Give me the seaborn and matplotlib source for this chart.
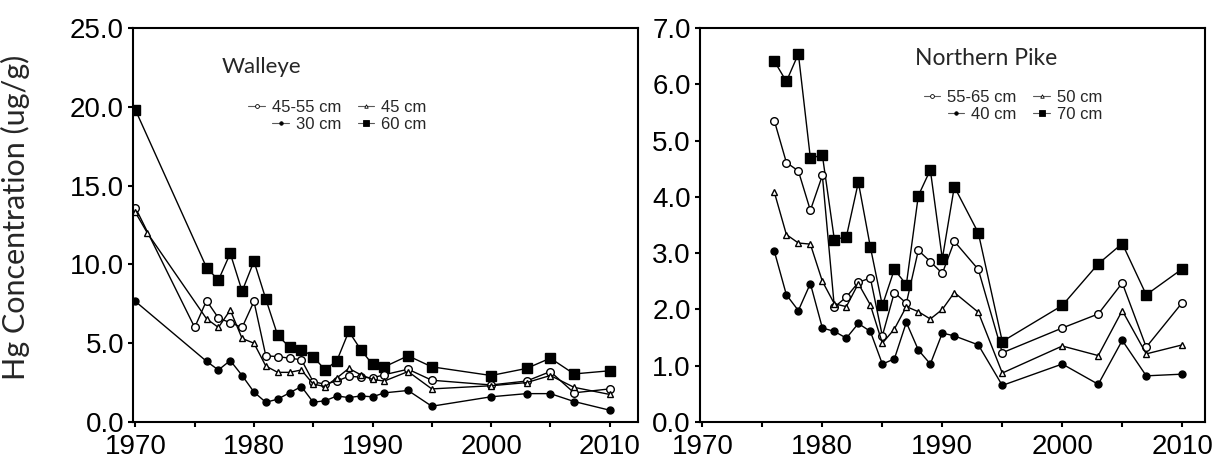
import matplotlib
matplotlib.use("Agg")
import matplotlib.pyplot as plt
from matplotlib.lines import Line2D
from matplotlib.ticker import MultipleLocator
import seaborn as sns

# -----------------------------
# Walleye data (ug/g)
# -----------------------------
mid_years = list(range(1976, 1992))
late_years = [1993, 1995, 2000, 2003, 2005, 2007, 2010]

w60_years = [1970] + mid_years + late_years
w60 = [19.8, 9.8, 9.0, 10.7, 8.3, 10.2, 7.8, 5.5, 4.75, 4.6, 4.15, 3.3, 3.9, 5.75,
       4.6, 3.65, 3.5, 4.2, 3.5, 2.95, 3.4, 4.05, 3.05, 3.25]

w4555_years = [1970, 1975] + mid_years + late_years
w4555 = [13.6, 6.0, 7.7, 6.6, 6.3, 6.0, 7.65, 4.2, 4.15, 4.05, 3.95, 2.55, 2.4, 2.6,
         2.9, 2.85, 2.8, 3.0, 3.35, 2.65, 2.35, 2.6, 3.2, 1.85, 2.1]

w45_years = [1970, 1971] + mid_years + late_years
w45 = [13.3, 12.0, 6.55, 6.0, 7.1, 5.3, 5.0, 3.55, 3.15, 3.15, 3.3, 2.4, 2.25, 2.8,
       3.4, 3.0, 2.7, 2.6, 3.2, 2.1, 2.3, 2.5, 2.95, 2.2, 1.75]

w30_years = [1970] + mid_years + late_years
w30 = [7.65, 3.85, 3.3, 3.9, 2.95, 1.9, 1.25, 1.45, 1.85, 2.25, 1.25, 1.35, 1.65,
       1.55, 1.65, 1.6, 1.85, 2.0, 1.0, 1.6, 1.8, 1.8, 1.3, 0.75]

# -----------------------------
# Northern Pike data (ug/g)
# -----------------------------
pike_years = mid_years + late_years
p70 = [6.41, 6.05, 6.54, 4.69, 4.74, 3.24, 3.29, 4.26, 3.11, 2.07, 2.71, 2.44, 4.02,
       4.48, 2.9, 4.18, 3.36, 1.43, 2.07, 2.81, 3.17, 2.26, 2.72]
p5565 = [5.35, 4.61, 4.46, 3.76, 4.38, 2.04, 2.22, 2.48, 2.56, 1.53, 2.3, 2.11, 3.05,
         2.85, 2.64, 3.21, 2.71, 1.23, 1.67, 1.92, 2.47, 1.33, 2.12]
p50 = [4.08, 3.33, 3.18, 3.16, 2.5, 2.1, 2.05, 2.46, 2.08, 1.4, 1.65, 2.05, 1.96,
       1.83, 2.0, 2.3, 1.95, 0.87, 1.35, 1.18, 1.98, 1.21, 1.37]
p40 = [3.03, 2.26, 1.98, 2.46, 1.67, 1.61, 1.49, 1.75, 1.61, 1.03, 1.12, 1.77, 1.28,
       1.03, 1.58, 1.53, 1.37, 0.65, 1.03, 0.67, 1.45, 0.82, 0.85]

# marker styles: (marker, facecolor, size)
STY = {
    "square": ("s", "k", 7.5),
    "open_circle": ("o", "white", 5.5),
    "open_tri": ("^", "white", 5.0),
    "dot": ("o", "k", 5.0),
}

sns.set_style("ticks")
plt.rcParams["font.family"] = ["Liberation Sans", "DejaVu Sans"]

fig = plt.figure(figsize=(12.24, 4.61), dpi=100)
ax1 = fig.add_axes([0.1087, 0.0846, 0.4126, 0.8547])
ax2 = fig.add_axes([0.5719, 0.0846, 0.4126, 0.8547])


def draw(ax, x, y, kind):
    m, fc, ms = STY[kind]
    sns.lineplot(x=x, y=y, ax=ax, color="k", lw=1.0, marker=m, markersize=ms,
                 markerfacecolor=fc, markeredgecolor="k", markeredgewidth=1.0,
                 errorbar=None)


# Walleye
draw(ax1, w60_years, w60, "square")
draw(ax1, w4555_years, w4555, "open_circle")
draw(ax1, w45_years, w45, "open_tri")
draw(ax1, w30_years, w30, "dot")

# Northern Pike
draw(ax2, pike_years, p70, "square")
draw(ax2, pike_years, p5565, "open_circle")
draw(ax2, pike_years, p50, "open_tri")
draw(ax2, pike_years, p40, "dot")

ax1.set_xlim(1969.8, 2012.4)
ax1.set_ylim(0, 25)
ax2.set_xlim(1969.8, 2011.9)
ax2.set_ylim(0, 7)

for ax in (ax1, ax2):
    ax.xaxis.set_major_locator(MultipleLocator(10))
    ax.xaxis.set_minor_locator(MultipleLocator(5))
    ax.set_xlabel("")
    ax.set_ylabel("")
    ax.tick_params(axis="both", which="both", direction="out", length=3.5, width=1.5,
                   labelsize=20, colors="k")
    ax.tick_params(axis="x", pad=5)
    ax.tick_params(axis="y", pad=3)
    for s in ax.spines.values():
        s.set_visible(True)
        s.set_linewidth(1.5)
        s.set_color("k")

ax1.set_yticks([0, 5, 10, 15, 20, 25])
ax1.set_yticklabels([f"{v:.1f}" for v in [0, 5, 10, 15, 20, 25]])
ax2.set_yticks(range(0, 8))
ax2.set_yticklabels([f"{v:.1f}" for v in range(0, 8)])

ax1.set_ylabel("Hg Concentration (ug/g)", fontsize=22, family=["Lato", "DejaVu Sans"])
ax1.yaxis.set_label_coords(-0.205, 0.52)

ax1.text(0.176, 0.885, "Walleye", transform=ax1.transAxes, fontsize=16,
         family=["Lato", "DejaVu Sans"])
ax2.text(0.426, 0.905, "Northern Pike", transform=ax2.transAxes, fontsize=16.5,
         family=["Lato", "DejaVu Sans"])


def handle(kind):
    m, fc, ms = STY[kind]
    return Line2D([], [], color="0.35", lw=0.8, marker=m, markersize=ms * 0.5,
                  markerfacecolor=fc, markeredgecolor="k", markeredgewidth=0.6)


# column-major order: col1 = (first, third), col2 = (second, fourth)
leg_kw = dict(ncol=2, frameon=False, fontsize=12, handlelength=1.0, handletextpad=0.4,
              columnspacing=1.0, labelspacing=0.15, borderaxespad=0)
leg1 = ax1.legend([handle("open_circle"), handle("dot"), handle("open_tri"), handle("square")],
                  ["45-55 cm", "30 cm", "45 cm", "60 cm"],
                  loc="upper left", bbox_to_anchor=(0.215, 0.835), **leg_kw)
leg2 = ax2.legend([handle("open_circle"), handle("dot"), handle("open_tri"), handle("square")],
                  ["55-65 cm", "40 cm", "50 cm", "70 cm"],
                  loc="upper left", bbox_to_anchor=(0.43, 0.86), **leg_kw)

# right-align the entries inside each legend column
for leg in (leg1, leg2):
    for col in leg._legend_handle_box.get_children():
        col.align = "right"

fig.savefig("out.png", dpi=100)
